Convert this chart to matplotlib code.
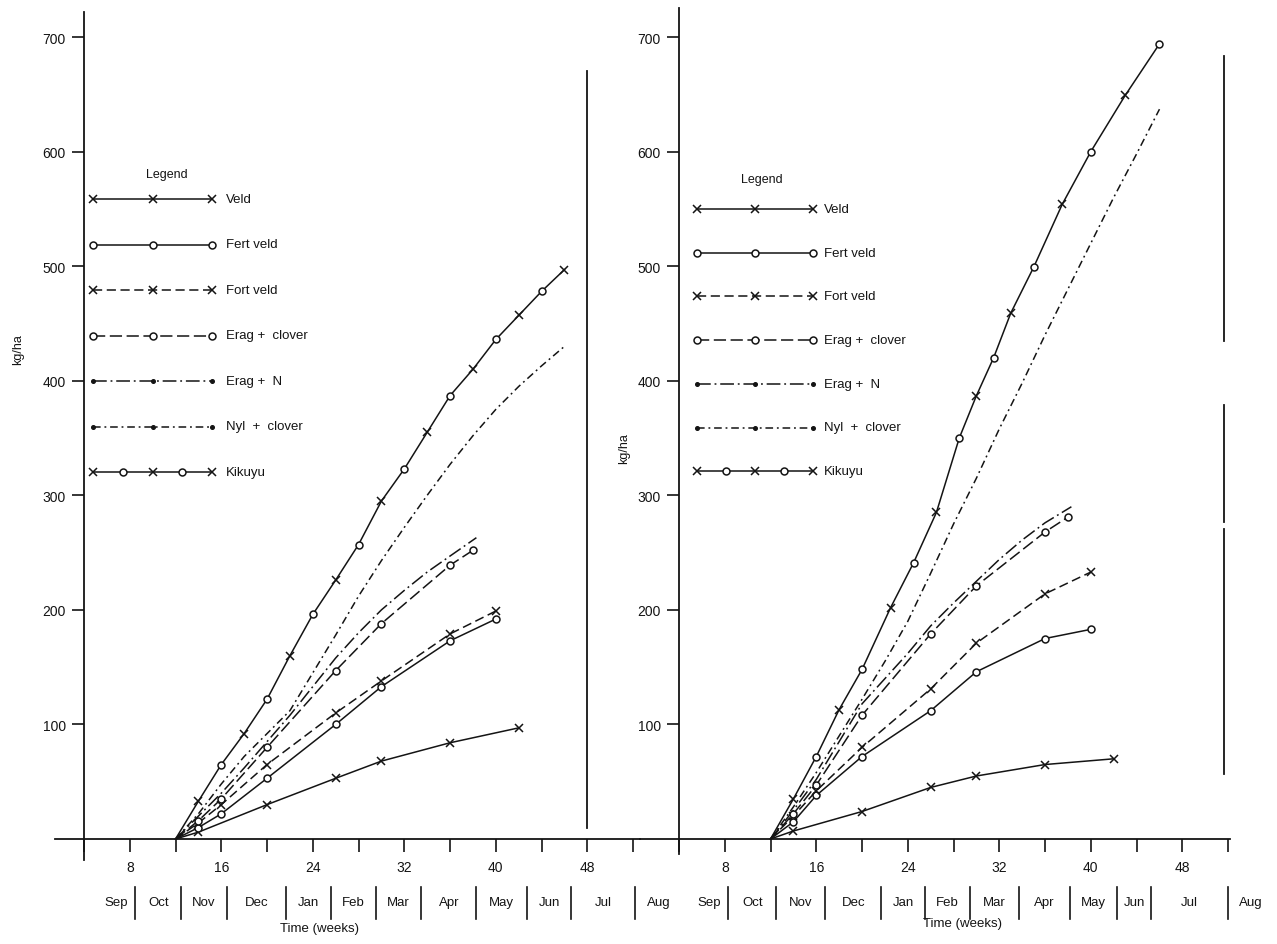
import matplotlib
matplotlib.use("Agg")
import matplotlib.pyplot as plt
import numpy as np

plt.rcParams["font.family"] = ["Liberation Sans", "DejaVu Sans"]

# ---- data (weeks, kg/ha) ----
weeks_veld = [12, 14, 20, 26, 30, 36, 42]
veld_left = [0, 6, 30, 53, 68, 84, 97]
veld_right = [0, 7, 24, 45, 55, 65, 70]

weeks_fert = [12, 14, 16, 20, 26, 30, 36, 40]
fert_veld_left = [0, 10, 22, 53, 100, 133, 173, 192]
fert_veld_right = [0, 15, 38, 72, 112, 146, 175, 183]
fort_veld_left = [0, 14, 30, 65, 110, 138, 179, 199]
fort_veld_right = [0, 20, 42, 80, 131, 171, 214, 233]

weeks_erag_clover = [12, 14, 16, 20, 26, 30, 36, 38]
erag_clover_left = [0, 16, 35, 80, 147, 188, 239, 252]
erag_clover_right = [0, 22, 47, 108, 179, 221, 268, 281]

weeks_erag_n = [12, 14, 16, 18, 20, 22, 24, 26, 28, 30, 32, 34, 36, 38.3]
erag_n_left = [0, 20, 40, 62, 85, 108, 133, 158, 180, 200, 217, 233, 247, 263]
erag_n_right = [0, 25, 52, 85, 118, 140, 162, 186, 206, 225, 244, 261, 276, 290]

weeks_nyl = [12, 14, 16, 18, 20, 22, 24, 26, 28, 30, 32, 34, 36, 38, 40, 42, 44, 46]
nyl_left = [0, 22, 48, 72, 92, 112, 145, 178, 212, 243, 272, 300, 327, 352, 375, 395, 413, 430]
nyl_right = [0, 28, 58, 90, 122, 155, 190, 232, 275, 315, 358, 398, 440, 480, 520, 560, 598, 637]

weeks_kikuyu_left = [12, 14, 16, 18, 20, 22, 24, 26, 28, 30, 32, 34, 36, 38, 40, 42, 44, 46]
kikuyu_left = [0, 33, 65, 92, 122, 160, 196, 226, 257, 295, 323, 355, 387, 410, 436, 457, 478, 497]
weeks_kikuyu_right = [12, 14, 16, 18, 20, 22.5, 24.5, 26.5, 28.5, 30, 31.5, 33, 35, 37.5, 40, 43, 46]
kikuyu_right = [0, 35, 72, 113, 148, 202, 241, 285, 350, 387, 420, 459, 499, 554, 600, 649, 694]

series_names = ["Veld", "Fert veld", "Fort veld", "Erag +  clover",
                "Erag +  N", "Nyl  +  clover", "Kikuyu"]

x_ticks = [4, 8, 12, 16, 20, 24, 28, 32, 36, 40, 44, 48, 52]
x_tick_labels = ["", "8", "", "16", "", "24", "", "32", "", "40", "", "48", ""]
y_ticks = [100, 200, 300, 400, 500, 600, 700]

months = ["Sep", "Oct", "Nov", "Dec", "Jan", "Feb", "Mar", "Apr", "May", "Jun", "Jul"]
month_bounds_left = [8.5, 12.5, 16.5, 21.7, 25.6, 29.5, 33.5, 38.3, 42.7, 46.6, 52.2]
month_bounds_right = [8.3, 12.5, 16.8, 21.7, 25.5, 29.4, 33.7, 38.2, 42.3, 45.3, 52.0]

# hand-drawn vertical bars on the right of each panel (week, kg/ha spans)
divider_left = (48.0, [(10, 670)])
divider_right = (51.6, [(435, 683), (277, 379), (57, 271)])

# ---- layout in pixels ----
W, H = 1277, 945
PXW = 11.44          # px per week
PXK = 1.1457         # px per kg/ha
ZERO = 840           # y pixel of 0 kg/ha
AX_TOP, AX_BOT = 7, 861
INK = "#141414"

fig = plt.figure(figsize=(W / 100, H / 100), dpi=100)


def make_axes(y_axis_px, right_px):
    x0 = y_axis_px - 4 * PXW
    ax = fig.add_axes([x0 / W, 1 - AX_BOT / H, (right_px - x0) / W, (AX_BOT - AX_TOP) / H])
    ax.set_xlim(0, (right_px - x0) / PXW)
    ax.set_ylim(-(AX_BOT - ZERO) / PXK, (ZERO - AX_TOP) / PXK)
    ax.patch.set_alpha(0)
    for s in ("top", "right"):
        ax.spines[s].set_visible(False)
    ax.spines["left"].set_position(("data", 4))
    ax.spines["bottom"].set_position(("data", 0))
    for s in ("left", "bottom"):
        ax.spines[s].set_linewidth(1.3)
        ax.spines[s].set_color(INK)
    ax.set_xticks(x_ticks)
    ax.set_xticklabels(x_tick_labels)
    ax.set_yticks(y_ticks)
    ax.set_yticklabels([str(v) for v in y_ticks])
    ax.tick_params(axis="x", direction="out", length=9, width=1.2, pad=6,
                   labelsize=10, colors=INK)
    ax.tick_params(axis="y", direction="out", length=9, width=1.2, pad=4,
                   labelsize=10, colors=INK)
    return ax


ax_l = make_axes(84, 640)
ax_r = make_axes(679, 1240)
ax_l.spines["left"].set_bounds(-18, 722)
ax_r.spines["left"].set_bounds(-13, 725)
ax_l.spines["bottom"].set_bounds(1.5, 52.6)
ax_r.spines["bottom"].set_bounds(0.6, 52.2)

LW = 1.1
solid = "-"
dash_fort = (0, (6, 3))
dash_clover = (0, (8, 3))
dashdot_n = (0, (9, 2.5, 1.2, 2.5))
dashdot_nyl = (0, (5, 2.5, 1.2, 2.5))

styles = {
    "Veld": dict(ls=solid, marker="x"),
    "Fert veld": dict(ls=solid, marker="o"),
    "Fort veld": dict(ls=dash_fort, marker="x"),
    "Erag +  clover": dict(ls=dash_clover, marker="o"),
    "Erag +  N": dict(ls=dashdot_n, marker="."),
    "Nyl  +  clover": dict(ls=dashdot_nyl, marker="."),
    "Kikuyu": dict(ls=solid, marker="xo"),
}

X_MS, O_MS, DOT_MS = 6, 5, 2.6


def draw_marks(ax, xs, ys, marker, **kw):
    if marker == "x":
        ax.plot(xs, ys, ls="none", marker="x", ms=X_MS, mew=1.1, color=INK, **kw)
    elif marker == "o":
        ax.plot(xs, ys, ls="none", marker="o", ms=O_MS, mew=1.1, mfc="white",
                mec=INK, **kw)
    elif marker == ".":
        ax.plot(xs, ys, ls="none", marker="o", ms=DOT_MS, color=INK, **kw)


def draw_series(ax, weeks, vals, name):
    st = styles[name]
    ax.plot(weeks, vals, ls=st["ls"], lw=LW, color=INK, zorder=2)
    xs, ys = np.asarray(weeks[1:]), np.asarray(vals[1:])
    if st["marker"] == "xo":
        draw_marks(ax, xs[0::2], ys[0::2], "x", zorder=3)
        draw_marks(ax, xs[1::2], ys[1::2], "o", zorder=3)
    elif st["marker"] != ".":
        draw_marks(ax, xs, ys, st["marker"], zorder=3)


panel_data = {
    ax_l: [(weeks_veld, veld_left), (weeks_fert, fert_veld_left),
           (weeks_fert, fort_veld_left), (weeks_erag_clover, erag_clover_left),
           (weeks_erag_n, erag_n_left), (weeks_nyl, nyl_left),
           (weeks_kikuyu_left, kikuyu_left)],
    ax_r: [(weeks_veld, veld_right), (weeks_fert, fert_veld_right),
           (weeks_fert, fort_veld_right), (weeks_erag_clover, erag_clover_right),
           (weeks_erag_n, erag_n_right), (weeks_nyl, nyl_right),
           (weeks_kikuyu_right, kikuyu_right)],
}
for ax, data in panel_data.items():
    for (wk, vals), name in zip(data, series_names):
        draw_series(ax, wk, vals, name)

for ax, (wk, spans) in ((ax_l, divider_left), (ax_r, divider_right)):
    for lo, hi in spans:
        ax.plot([wk, wk], [lo, hi], color=INK, lw=1.3, clip_on=False)


# ---- legends (drawn in figure pixels) ----
def fx(px):
    return px / W


def fy(py):
    return 1 - py / H


def legend_mark(px, y, kind):
    kw = dict(ls="none", transform=fig.transFigure)
    if kind == "x":
        kw.update(marker="x", ms=X_MS, mew=1.1, color=INK)
    elif kind == "o":
        kw.update(marker="o", ms=O_MS, mew=1.1, mfc="white", mec=INK)
    else:
        kw.update(marker="o", ms=DOT_MS, color=INK)
    fig.add_artist(plt.Line2D([fx(px)], [y], **kw))


def draw_legend(title_xy, x0, x1, y0, dy, text_x):
    fig.text(fx(title_xy[0]), fy(title_xy[1]), "Legend", ha="center", va="center",
             fontsize=9, color=INK)
    for i, name in enumerate(series_names):
        st = styles[name]
        y = fy(y0 + i * dy)
        fig.add_artist(plt.Line2D([fx(x0), fx(x1)], [y, y], ls=st["ls"], lw=LW,
                                  color=INK, transform=fig.transFigure))
        if st["marker"] == "xo":
            pts = np.linspace(x0, x1, 5)
            kinds = ["x", "o", "x", "o", "x"]
        else:
            pts = np.linspace(x0, x1, 3)
            kinds = [st["marker"]] * 3
        for p, k in zip(pts, kinds):
            legend_mark(p, y, k)
        fig.text(fx(text_x), y, name, ha="left", va="center", fontsize=9.5, color=INK)


draw_legend((167, 175), 93, 212, 200, 45.5, 226)
draw_legend((762, 180), 697, 813, 210, 43.7, 824)


# ---- months row, axis titles ----
def v_of(py):
    return (ZERO - py) / PXK


def draw_months(ax, bounds, extra_lead=None, extra_tail=None, time_py=929, time_week=24.6):
    centres = [bounds[0] - 1.7] + [(a + b) / 2 for a, b in zip(bounds[:-1], bounds[1:])]
    for name, c in zip(months, centres):
        ax.text(c, v_of(903), name, ha="center", va="center", fontsize=9.5, color=INK)
    for b in bounds:
        ax.plot([b, b], [v_of(888), v_of(920)], color=INK, lw=1.2, clip_on=False)
    for pos in (extra_lead, extra_tail):
        if pos is not None:
            ax.text(pos, v_of(903), "Aug", ha="center", va="center", fontsize=9.5,
                    color=INK)
    ax.text(time_week, v_of(time_py), "Time (weeks)", ha="center", va="center",
            fontsize=9.5, color=INK)


draw_months(ax_l, month_bounds_left, time_py=929, time_week=24.6)
draw_months(ax_r, month_bounds_right, extra_lead=2.2, extra_tail=54.0,
            time_py=924, time_week=28.8)

fig.text(fx(18), fy(350), "kg/ha", rotation=90, ha="center", va="center",
         fontsize=9, color=INK)
fig.text(fx(624), fy(449), "kg/ha", rotation=90, ha="center", va="center",
         fontsize=9, color=INK)

fig.savefig("out.png", dpi=100, facecolor="white")
